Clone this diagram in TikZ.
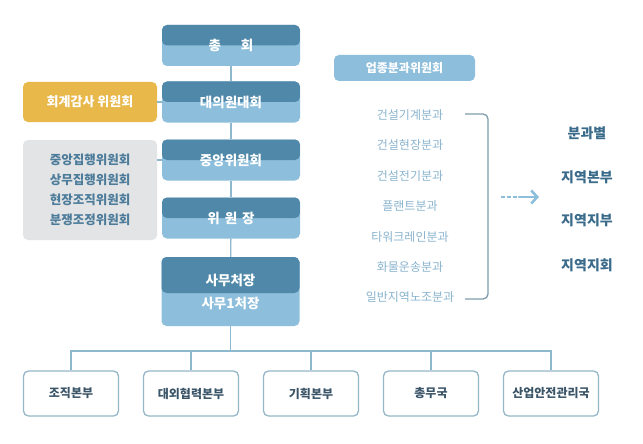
\documentclass[tikz,border=0pt]{standalone}
\usepackage{fontspec}
\setmainfont{Noto Sans CJK KR}
\usetikzlibrary{positioning,arrows.meta,calc}
\definecolor{topblue}{HTML}{4F88A9}
\definecolor{lowblue}{HTML}{8DBEDB}
\definecolor{auditor}{HTML}{E8B84A}
\definecolor{grayfill}{HTML}{E3E4E6}
\definecolor{graytext}{HTML}{4D7C9B}
\definecolor{listtext}{HTML}{8AB4CE}
\definecolor{linkblue}{HTML}{8DB8CE}
\definecolor{regiontext}{HTML}{3A6B8A}
\definecolor{deptline}{HTML}{95B7C7}
\definecolor{depttext}{HTML}{3B5568}
\definecolor{bracketc}{HTML}{7F9DAD}
\tikzset{
  orgbox/.style={rounded corners=5pt, minimum width=138pt, minimum height=41pt, inner sep=0pt,
    fill=lowblue, text=white, font=\fontsize{13.5}{15}\selectfont\bfseries,
    path picture={\fill[topblue] (path picture bounding box.north west) rectangle
      ($(path picture bounding box.east)+(0,#1)$);}},
  orgbox/.default=0,
  sidebox/.style={rounded corners=5pt, minimum width=134pt, inner sep=0pt, align=center},
  deptbox/.style={draw=deptline, line width=1.3pt, rounded corners=5pt, fill=white, minimum width=95pt,
    minimum height=45pt, text=depttext, font=\fontsize{12}{14}\selectfont\bfseries},
  bunlabel/.style={text=listtext, font=\fontsize{12}{14}\selectfont},
  regionlabel/.style={text=regiontext, font=\fontsize{14}{16}\selectfont\bfseries},
  link/.style={linkblue, line width=1.3pt}
}
\begin{document}
\begin{tikzpicture}[x=1pt, y=-1pt]
  \useasboundingbox[fill=white] (0,0) rectangle (643,444);
  % main line
  \node[orgbox] (chonghoe) at (231,45.5) {총\hspace{20pt}회};
  \node[orgbox] (daeui) at (231,102) {대의원대회};
  \node[orgbox] (jungang) at (231,160) {중앙위원회};
  \node[orgbox] (wiwonjang) at (231,218) {위\hspace{5pt}원\hspace{5pt}장};
  \node[orgbox=-1.5pt, minimum height=69pt, align=center, font=\fontsize{13.5}{23}\selectfont\bfseries]
    (samucheo) at (230.5,291.5) {사무처장\\사무1처장};
  \draw[link] (chonghoe) -- (daeui);
  \draw[link] (daeui) -- (jungang);
  \draw[link] (jungang) -- (wiwonjang);
  \draw[link] (wiwonjang) -- (samucheo);

  % side committees
  \node[sidebox, fill=auditor, minimum height=40pt, text=white, font=\fontsize{13}{15}\selectfont\bfseries]
    (hoegye) at (90,102) {회계감사 위원회};
  \node[sidebox, fill=grayfill, minimum height=100pt, text=graytext, font=\fontsize{12.5}{20}\selectfont\bfseries]
    (jiphaeng) at (90,190) {중앙집행위원회\\상무집행위원회\\현장조직위원회\\분쟁조정위원회};
  \draw[link] (hoegye) -- (daeui);
  \draw[link] (jiphaeng.east |- jungang) -- (jungang);

  % industry sections
  \node[rounded corners=5pt, fill=lowblue, minimum width=141pt, minimum height=26pt, inner sep=0pt,
    text=white, font=\fontsize{12}{14}\selectfont\bfseries] (eopjong) at (404.5,68) {업종분과위원회};
  \foreach \name [count=\i] in {건설기계분과,건설현장분과,건설전기분과,플랜트분과,타워크레인분과,화물운송분과,일반지역노조분과}
    \node[bunlabel] (bun\i) at (410,{115+30.4*(\i-1)}) {\name};
  \coordinate (brtop) at (465,114);
  \coordinate (brbot) at (465,299);
  \draw[bracketc, line width=1.3pt, rounded corners=5pt] (brtop) -- (488,114) -- (488,299) -- (brbot);
  \coordinate (arrfrom) at (501,197);
  \coordinate (arrmid) at (519,197);
  \coordinate (arrto) at (539,197);
  \draw[lowblue, line width=2.6pt, dash pattern=on 3.5pt off 2.5pt] (arrfrom) -- (arrmid);
  \draw[lowblue, line width=2.6pt, line cap=round,
    -{Straight Barb[length=6pt, width=13pt, line width=2.6pt]}] (arrmid) -- (arrto);
  \node[regionlabel] (bungwa) at (587,133) {분과별};
  \node[regionlabel] (bonbu) at (587,177) {지역본부};
  \node[regionlabel] (jibu) at (587,220) {지역지부};
  \node[regionlabel] (jihoe) at (587,265) {지역지회};

  % departments
  \coordinate (bus) at (230.5,351);
  \node[deptbox] (jojik) at (71,393.5) {조직본부};
  \node[deptbox] (daeoe) at (191,393.5) {대외협력본부};
  \node[deptbox] (gihoek) at (311,393.5) {기획본부};
  \node[deptbox] (chongmu) at (431,393.5) {총무국};
  \node[deptbox] (saneop) at (551,393.5) {산업안전관리국};
  \draw[link] (samucheo) -- (bus);
  \draw[link] (jojik.north) |- (bus) -| (saneop.north);
  \foreach \d in {daeoe,gihoek,chongmu}
    \draw[link] (\d.north) -- (\d.north |- bus);
\end{tikzpicture}
\end{document}
